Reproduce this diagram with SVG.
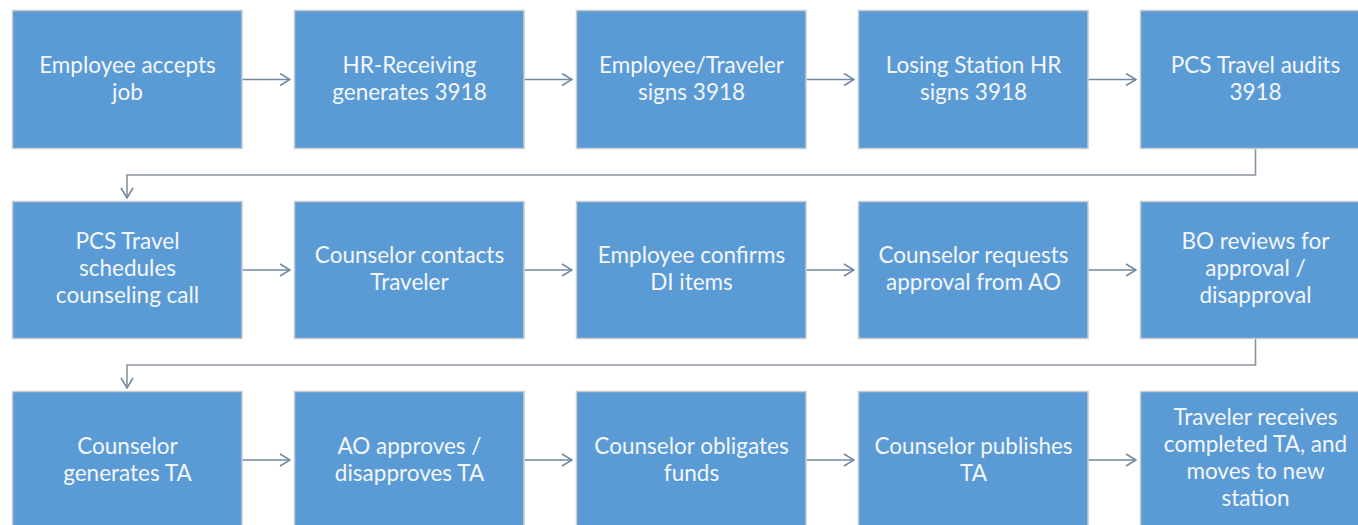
<svg xmlns="http://www.w3.org/2000/svg" width="1358" height="525" viewBox="0 0 1358 525">
<defs>
<marker id="ah" viewBox="0 0 12 14" refX="11" refY="7" markerWidth="12" markerHeight="14" markerUnits="userSpaceOnUse" orient="auto">
<path d="M1,1 L11,7 L1,13" fill="none" stroke="#7189a2" stroke-width="1.6"/>
</marker>
</defs>
<style>
.box{fill:#5b9bd5;stroke:#c8ccd0;stroke-width:1.5}
.t{font-family:Lato,"Open Sans","Liberation Sans",sans-serif;font-size:22.5px;fill:#f3f6fa;text-anchor:middle}
.c{fill:none;stroke:#7189a2;stroke-width:1.5}
.e{fill:none;stroke:#8a949e;stroke-width:1.6}
</style>
<rect width="1358" height="525" fill="#ffffff"/>
<g id="connectors">
<line class="c" x1="242" y1="79.5" x2="290" y2="79.5" marker-end="url(#ah)"/>
<line class="c" x1="524" y1="79.5" x2="572" y2="79.5" marker-end="url(#ah)"/>
<line class="c" x1="806" y1="79.5" x2="854" y2="79.5" marker-end="url(#ah)"/>
<line class="c" x1="1088" y1="79.5" x2="1136" y2="79.5" marker-end="url(#ah)"/>
<polyline class="e" points="1255.5,148.5 1255.5,175 127,175 127,198" marker-end="url(#ah)"/>
<line class="c" x1="242" y1="270" x2="290" y2="270" marker-end="url(#ah)"/>
<line class="c" x1="524" y1="270" x2="572" y2="270" marker-end="url(#ah)"/>
<line class="c" x1="806" y1="270" x2="854" y2="270" marker-end="url(#ah)"/>
<line class="c" x1="1088" y1="270" x2="1136" y2="270" marker-end="url(#ah)"/>
<polyline class="e" points="1255.5,338.5 1255.5,365 127,365 127,388" marker-end="url(#ah)"/>
<line class="c" x1="242" y1="460" x2="290" y2="460" marker-end="url(#ah)"/>
<line class="c" x1="524" y1="460" x2="572" y2="460" marker-end="url(#ah)"/>
<line class="c" x1="806" y1="460" x2="854" y2="460" marker-end="url(#ah)"/>
<line class="c" x1="1088" y1="460" x2="1136" y2="460" marker-end="url(#ah)"/>
</g>
<g id="n1"><rect class="box" x="12.5" y="10.5" width="229.5" height="138"/><text class="t" x="127.5" y="73">Employee accepts</text><text class="t" x="127.5" y="100">job</text></g>
<g id="n2"><rect class="box" x="294.5" y="10.5" width="229.5" height="138"/><text class="t" x="409.5" y="73">HR-Receiving</text><text class="t" x="409.5" y="100">generates 3918</text></g>
<g id="n3"><rect class="box" x="576.5" y="10.5" width="229.5" height="138"/><text class="t" x="691.5" y="73">Employee/Traveler</text><text class="t" x="691.5" y="100">signs 3918</text></g>
<g id="n4"><rect class="box" x="858.5" y="10.5" width="229.5" height="138"/><text class="t" x="973.5" y="73">Losing Station HR</text><text class="t" x="973.5" y="100">signs 3918</text></g>
<g id="n5"><rect class="box" x="1140.5" y="10.5" width="229.5" height="138"/><text class="t" x="1255.5" y="73">PCS Travel audits</text><text class="t" x="1255.5" y="100">3918</text></g>
<g id="n6"><rect class="box" x="12.5" y="201.5" width="229.5" height="137"/><text class="t" x="127.5" y="249">PCS Travel</text><text class="t" x="127.5" y="276">schedules</text><text class="t" x="127.5" y="303">counseling call</text></g>
<g id="n7"><rect class="box" x="294.5" y="201.5" width="229.5" height="137"/><text class="t" x="409.5" y="263">Counselor contacts</text><text class="t" x="409.5" y="290">Traveler</text></g>
<g id="n8"><rect class="box" x="576.5" y="201.5" width="229.5" height="137"/><text class="t" x="691.5" y="263">Employee confirms</text><text class="t" x="691.5" y="290">DI items</text></g>
<g id="n9"><rect class="box" x="858.5" y="201.5" width="229.5" height="137"/><text class="t" x="973.5" y="263">Counselor requests</text><text class="t" x="973.5" y="290">approval from AO</text></g>
<g id="n10"><rect class="box" x="1140.5" y="201.5" width="229.5" height="137"/><text class="t" x="1255.5" y="249">BO reviews for</text><text class="t" x="1255.5" y="276">approval /</text><text class="t" x="1255.5" y="303">disapproval</text></g>
<g id="n11"><rect class="box" x="12.5" y="391.5" width="229.5" height="137"/><text class="t" x="127.5" y="453.5">Counselor</text><text class="t" x="127.5" y="480.5">generates TA</text></g>
<g id="n12"><rect class="box" x="294.5" y="391.5" width="229.5" height="137"/><text class="t" x="409.5" y="453.5">AO approves /</text><text class="t" x="409.5" y="480.5">disapproves TA</text></g>
<g id="n13"><rect class="box" x="576.5" y="391.5" width="229.5" height="137"/><text class="t" x="691.5" y="453.5">Counselor obligates</text><text class="t" x="691.5" y="480.5">funds</text></g>
<g id="n14"><rect class="box" x="858.5" y="391.5" width="229.5" height="137"/><text class="t" x="973.5" y="453.5">Counselor publishes</text><text class="t" x="973.5" y="480.5">TA</text></g>
<g id="n15"><rect class="box" x="1140.5" y="391.5" width="229.5" height="137"/><text class="t" x="1255.5" y="425">Traveler receives</text><text class="t" x="1255.5" y="452">completed TA, and</text><text class="t" x="1255.5" y="479">moves to new</text><text class="t" x="1255.5" y="506">station</text></g>
</svg>
